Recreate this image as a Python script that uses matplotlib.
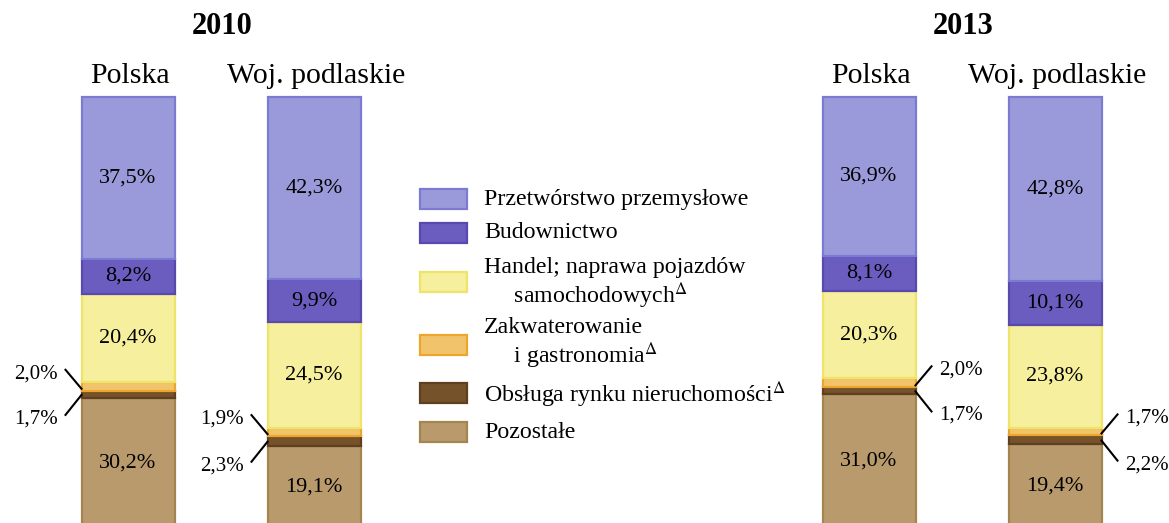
import numpy as np
import matplotlib.pyplot as plt
from matplotlib.patches import Rectangle

plt.rcParams['font.family'] = ['Liberation Serif', 'DejaVu Serif']
plt.rcParams['mathtext.fontset'] = 'stix'

years = ['2010', '2013']
regions = ['Polska', 'Woj. podlaskie']
sectors = ['Przetwórstwo przemysłowe', 'Budownictwo',
           'Handel; naprawa pojazdów\n     samochodowych$^{\\Delta}$',
           'Zakwaterowanie\n     i gastronomia$^{\\Delta}$',
           'Obsługa rynku nieruchomości$^{\\Delta}$', 'Pozostałe']

# shares, bottom-up order: Pozostale, Obsluga, Zakwaterowanie, Handel, Budownictwo, Przetworstwo
pozostale = [30.2, 19.1, 31.0, 19.4]
obsluga = [1.7, 2.3, 1.7, 2.2]
zakwat = [2.0, 1.9, 2.0, 1.7]
handel = [20.4, 24.5, 20.3, 23.8]
budown = [8.2, 9.9, 8.1, 10.1]
przetw = [37.5, 42.3, 36.9, 42.8]

fills = ['#9a9adb', '#6b5cbf', '#f5ef9e', '#f1c46c', '#75522a', '#b99a6d']
edges = ['#7b7bd2', '#5849b0', '#f0e36a', '#eea52c', '#5e3f1f', '#a5854f']

W, H = 1169, 523
fig = plt.figure(figsize=(W / 100, H / 100), dpi=100)
ax = fig.add_axes([0, 0, 1, 1])
top_px, bot_px = 97, 528
scale = (bot_px - top_px) / 100.0
ax.set_xlim(0, W)
ax.set_ylim((bot_px - H) / scale, bot_px / scale)
ax.axis('off')

ov = fig.add_axes([0, 0, 1, 1], facecolor='none')
ov.set_xlim(0, W)
ov.set_ylim(H, 0)
ov.axis('off')

def py(v):
    return bot_px - v * scale

xs = np.array([128, 314, 869, 1055])
bw = 93
stack = [pozostale, obsluga, zakwat, handel, budown, przetw]
cols = [5, 4, 3, 2, 1, 0]
bottom = np.zeros(4)
for vals, ci in zip(stack, cols):
    vals = np.array(vals)
    ax.bar(xs, vals, bw, bottom=bottom, color=fills[ci], edgecolor=edges[ci], linewidth=1.6)
    if vals.min() > 5:
        for x, b, v in zip(xs, bottom, vals):
            ax.text(x, b + v / 2, f'{v:.1f}%'.replace('.', ','), ha='center', va='center', fontsize=16)
    bottom += vals

# headers
for i, yr in enumerate(years):
    ov.text((xs[2 * i] + xs[2 * i + 1]) / 2 + 1, 27, yr, ha='center', va='center', fontsize=22, fontweight='bold')
    for j, rg in enumerate(regions):
        ov.text(xs[2 * i + j] + 2, 76, rg, ha='center', va='center', fontsize=21.5)

# leader lines for small segments
fmt = lambda v: f'{v:.1f}%'.replace('.', ',')
for k in range(4):
    right = k >= 2
    xe = xs[k] + bw / 2 if right else xs[k] - bw / 2
    d = 1 if right else -1
    y1 = py(pozostale[k] + obsluga[k] + zakwat[k] * 0.2)
    y2 = py(pozostale[k] + obsluga[k] * 0.4)
    ov.plot([xe, xe + d * 16], [y1, y1 - 19], color='black', lw=1.5)
    ov.plot([xe, xe + d * 16], [y2, y2 + 20], color='black', lw=1.5)
    tx = xe + d * 24
    ha = 'left' if right else 'right'
    ov.text(tx, y1 - 15, fmt(zakwat[k]), ha=ha, va='center', fontsize=15)
    ov.text(tx, y2 + 24, fmt(obsluga[k]), ha=ha, va='center', fontsize=15)

# legend
leg_y = [199, 233, 282, 345, 393, 432]
txt_y = [199, 233, 284, 344, 395, 432]
for i, lab in enumerate(sectors):
    ov.add_patch(Rectangle((420, leg_y[i] - 10), 47, 20, facecolor=fills[i], edgecolor=edges[i], lw=1.6))
    ov.text(484, txt_y[i], lab, ha='left', va='center', fontsize=17.2, linespacing=1.1)

fig.savefig('out.png', dpi=100)
